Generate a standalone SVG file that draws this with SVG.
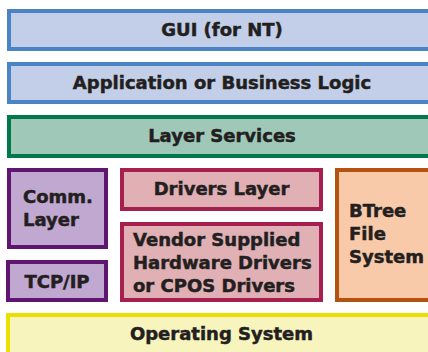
<svg xmlns="http://www.w3.org/2000/svg" width="428" height="352" viewBox="0 0 428 352">
<style>
rect{stroke-width:4}
text{font-family:"DejaVu Sans","Liberation Sans",sans-serif;font-weight:bold;font-size:18px;fill:#231f20;stroke:#231f20;stroke-width:0.5}
.c{text-anchor:middle}
.blue{fill:#c3cfe9;stroke:#4a84c4}
.green{fill:#9fc8b9;stroke:#00784c}
.purple{fill:#c1a8d0;stroke:#5f1670}
.pink{fill:#e0b0b5;stroke:#a6204f}
.orange{fill:#f9caa9;stroke:#b4520f}
.yellow{fill:#f8f4bd;stroke:#ebdf00}
</style>
<rect width="428" height="352" fill="#ffffff" stroke="none"/>
<g id="gui"><rect class="blue" x="9" y="11" width="430" height="38"/><text class="c" x="222" y="36">GUI (for NT)</text></g>
<g id="app"><rect class="blue" x="9" y="64" width="430" height="38"/><text class="c" x="222" y="89">Application or Business Logic</text></g>
<g id="layer-services"><rect class="green" x="9" y="117" width="430" height="39"/><text class="c" x="222" y="142">Layer Services</text></g>
<g id="comm"><rect class="purple" x="9" y="170" width="97" height="77"/><text x="23" y="203">Comm.</text><text x="23" y="226">Layer</text></g>
<g id="tcpip"><rect class="purple" x="8" y="262" width="98" height="38"/><text class="c" x="57" y="288">TCP/IP</text></g>
<g id="drivers"><rect class="pink" x="122" y="170" width="199" height="39"/><text class="c" x="221.5" y="195">Drivers Layer</text></g>
<g id="vendor"><rect class="pink" x="122" y="224" width="199" height="76"/><text x="133" y="246">Vendor Supplied</text><text x="133" y="269">Hardware Drivers</text><text x="133" y="292">or CPOS Drivers</text></g>
<g id="btree"><rect class="orange" x="337" y="170" width="120" height="130"/><text x="349" y="217">BTree</text><text x="349" y="240">File</text><text x="349" y="263">System</text></g>
<g id="os"><rect class="yellow" x="8" y="315" width="440" height="50"/><text class="c" x="221.5" y="340">Operating System</text></g>
<g id="connectors"></g>
</svg>
